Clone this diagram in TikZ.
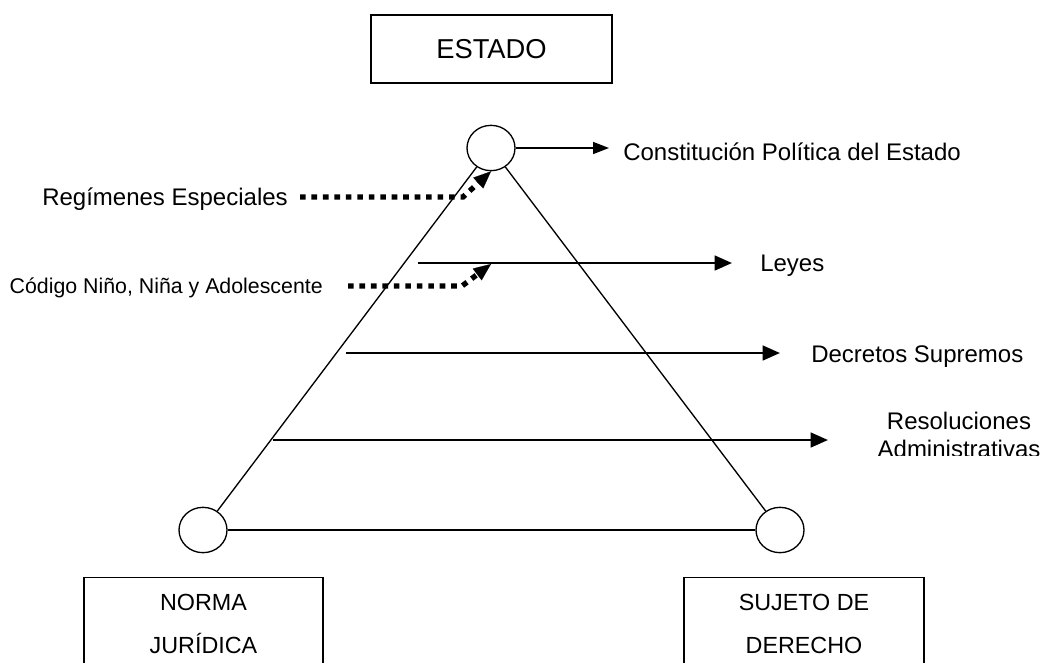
\documentclass[tikz,border=0pt]{standalone}
\usepackage{fontspec}
\setmainfont{Liberation Sans}
\usetikzlibrary{arrows.meta,shapes.geometric}
\begin{document}
\begin{tikzpicture}[x=0.75pt,y=-0.75pt,
  box/.style={draw,line width=1pt,inner sep=0},
  circ/.style={draw,ellipse,line width=1pt,minimum width=36pt,minimum height=34pt,inner sep=0},
  side/.style={line width=1pt},
  harrow/.style={line width=1.8pt,-{Triangle[length=13pt,width=11pt]}},
  darrow/.style={line width=4pt,dash pattern=on 4.2pt off 4.4pt,-{Triangle[length=13pt,width=11pt,line width=0.1pt]}},
  lbl/.style={font=\fontsize{18}{21}\selectfont,inner sep=0},
  slbl/.style={font=\fontsize{16}{19}\selectfont,inner sep=0},
  blbl/.style={font=\fontsize{17.5}{21}\selectfont,inner sep=0},
]
\useasboundingbox (0,0) rectangle (1045,662);
\clip (0,0) rectangle (1045,662);

% top box
\node[box,minimum width=180.75pt,minimum height=51pt,font=\fontsize{20.5}{24}\selectfont] (estado) at (491.5,49) {ESTADO};

% circles and triangle
\node[circ] (top) at (491,148) {};
\node[circ] (bl) at (203,530) {};
\node[circ] (br) at (780,530) {};
\draw[side] (top) -- (bl);
\draw[side] (top) -- (br);
\draw[line width=1.3pt] (bl) -- (br);

% Constitucion
\coordinate (c1) at (609,148);
\draw[line width=1.2pt,-{Triangle[length=12pt,width=9pt]}] (top.east) -- (c1);
\node[lbl,anchor=base west] (cpe) at (623,160) {Constitución Política del Estado};

% Leyes
\coordinate (l0) at (418,263);
\coordinate (l1) at (732,263);
\coordinate (lmid) at (491,264);
\draw[harrow] (l0) -- (l1);
\node[lbl,anchor=base west] (leyes) at (760,271) {Leyes};

% Decretos
\coordinate (d0) at (346,353);
\coordinate (d1) at (780,353);
\draw[harrow] (d0) -- (d1);
\node[lbl,anchor=base west] (decretos) at (811,362) {Decretos Supremos};

% Resoluciones
\coordinate (r0) at (273,440);
\coordinate (r1) at (828,440);
\draw[harrow] (r0) -- (r1);
\node[lbl,anchor=base] (res1) at (959,429) {Resoluciones};
\begin{scope}
\clip (850,400) rectangle (1045,455);
\node[lbl,anchor=base] (res2) at (959,457) {Administrativas};
\end{scope}

% Regimenes Especiales
\node[lbl,anchor=base east] (reg) at (288,205) {Regímenes Especiales};
\coordinate (g0) at (300,197);
\coordinate (g1) at (463,197);
\draw[darrow] (g0) -- (g1) -- (top.south);

% Codigo
\node[slbl,anchor=base east] (cod) at (323,293) {Código Niño, Niña y Adolescente};
\coordinate (k0) at (348,286);
\coordinate (k1) at (462,286);
\draw[darrow] (k0) -- (k1) -- (lmid);

% bottom boxes
\node[box,anchor=north,minimum width=179.25pt,minimum height=150pt] (nj) at (203.5,577) {};
\node[blbl,anchor=base] (nj1) at (203.5,610) {NORMA};
\node[blbl,anchor=base] (nj2) at (203.5,653) {JURÍDICA};
\node[box,anchor=north,minimum width=180pt,minimum height=150pt] (sd) at (804,577) {};
\node[blbl,anchor=base] (sd1) at (804,610) {SUJETO DE};
\node[blbl,anchor=base] (sd2) at (804,653) {DERECHO};
\end{tikzpicture}
\end{document}
